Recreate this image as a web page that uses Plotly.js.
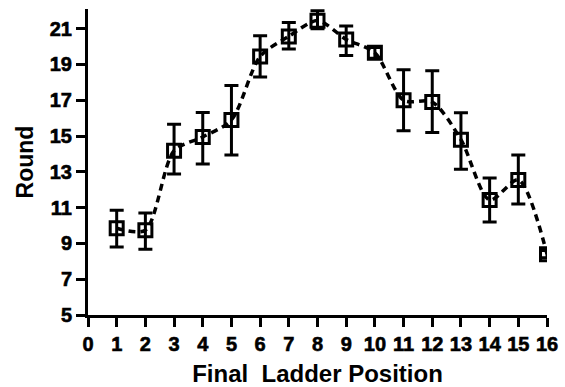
<!DOCTYPE html>
<html>
<head>
<meta charset="utf-8">
<script src="https://cdn.plot.ly/plotly-3.0.1.min.js"></script>
<style>
html,body{margin:0;padding:0;background:#fff;}
#chart{width:565px;height:387px;}
#chart .xtick text, #chart .ytick text { font-weight: 700 !important; stroke: #000; stroke-width: 0.6px; }
</style>
</head>
<body>
<div id="chart"></div>
<script>
var positions = [1, 2, 3, 4, 5, 6, 7, 8, 9, 10, 11, 12, 13, 14, 15, 16];
var roundMean = [9.85, 9.74, 14.18, 14.95, 15.9, 19.45, 20.57, 21.45, 20.4, 19.65, 17.0, 16.9, 14.8, 11.42, 12.55, 8.4];
var roundUpper = [10.86, 10.7, 15.66, 16.31, 17.82, 20.6, 21.35, 22.0, 21.15, 19.95, 18.7, 18.65, 16.3, 12.65, 13.94, 8.6];
var roundLower = [8.8, 8.67, 12.88, 13.44, 13.94, 18.3, 19.86, 21.0, 19.5, 19.35, 15.3, 15.2, 13.15, 10.2, 11.2, 8.2];
var xTickVals = [0, 1, 2, 3, 4, 5, 6, 7, 8, 9, 10, 11, 12, 13, 14, 15, 16];
var yTickVals = [5, 7, 9, 11, 13, 15, 17, 19, 21];

var plus = roundUpper.map(function(u, i){ return u - roundMean[i]; });
var minus = roundLower.map(function(l, i){ return roundMean[i] - l; });

var trace = {
  x: positions,
  y: roundMean,
  type: 'scatter',
  mode: 'lines+markers',
  line: {color: '#000', width: 3.5, dash: '7px,5px', shape: 'spline', smoothing: 0.8},
  marker: {symbol: 'square-open', size: 13, color: '#000', line: {width: 3, color: '#000'}},
  error_y: {type: 'data', symmetric: false, array: plus, arrayminus: minus, color: '#000', thickness: 3, width: 7},
  hoverinfo: 'none'
};

var fam = 'Liberation Sans, Arial, sans-serif';
function bold(v){ return '<b>' + v + '</b>'; }
var layout = {
  width: 565, height: 387,
  margin: {l: 88, r: 18, t: 9, b: 72},
  paper_bgcolor: '#fff', plot_bgcolor: '#fff',
  showlegend: false,
  font: {family: fam, color: '#000'},
  xaxis: {
    range: [0, 16], tickmode: 'array', tickvals: xTickVals, ticktext: xTickVals.map(bold),
    showgrid: false, zeroline: false, showline: true, linecolor: '#000', linewidth: 3,
    ticks: 'outside', ticklen: 9, tickwidth: 3, tickcolor: '#000',
    tickfont: {family: fam, size: 20, color: '#000'},
    title: {text: '<b>Final  Ladder Position</b>', font: {family: fam, size: 24, color: '#000'}, standoff: 14}
  },
  yaxis: {
    range: [5, 22.1], tickmode: 'array', tickvals: yTickVals, ticktext: yTickVals.map(bold),
    showgrid: false, zeroline: false, showline: true, linecolor: '#000', linewidth: 3,
    ticks: 'outside', ticklen: 9, tickwidth: 3, tickcolor: '#000',
    tickfont: {family: fam, size: 20, color: '#000'},
    title: {text: '<b>Round</b>', font: {family: fam, size: 23, color: '#000'}, standoff: 10}
  }
};

Plotly.newPlot('chart', [trace], layout, {displayModeBar: false, staticPlot: true});
</script>
</body>
</html>
